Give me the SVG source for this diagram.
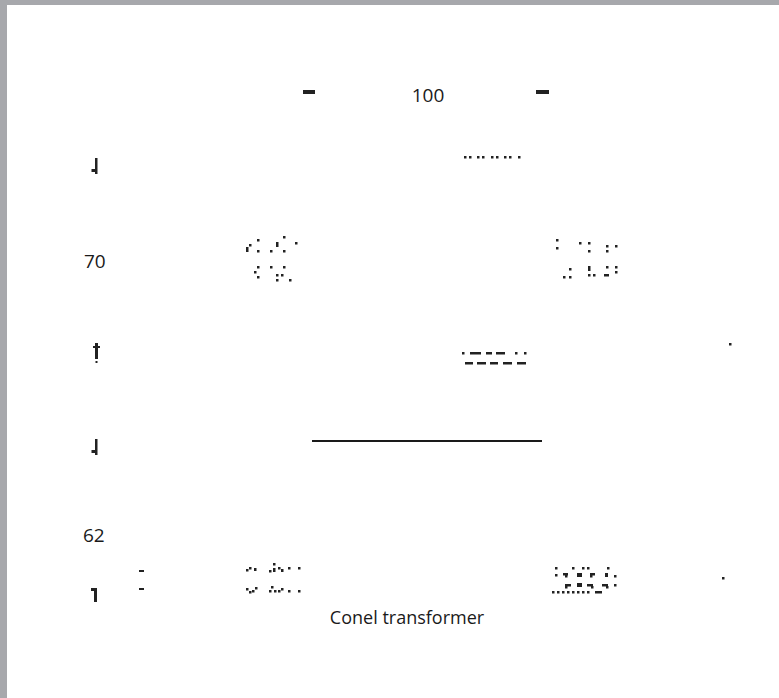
<svg xmlns="http://www.w3.org/2000/svg" width="779" height="698" viewBox="0 0 779 698">
<style>
.t{font-family:"Open Sans","Noto Sans","Liberation Sans",sans-serif;fill:#1a1a1a}
.d{fill:#222}
</style>
<rect x="0" y="0" width="779" height="698" fill="#ffffff"/>
<rect x="0" y="0" width="779" height="5" fill="#a7a8ac"/>
<rect x="0" y="0" width="7" height="698" fill="#a7a8ac"/>

<g id="top-scale">
<rect class="d" x="303" y="90" width="12" height="4"/>
<rect class="d" x="536" y="90" width="13" height="4"/>
<text class="t" x="428" y="102" font-size="19" text-anchor="middle">100</text>
</g>

<g id="left-marks">
<rect class="d" x="95" y="158" width="2.5" height="16"/>
<rect class="d" x="91.5" y="169" width="4" height="3"/>
<text class="t" x="84" y="268" font-size="19">70</text>
<rect class="d" x="95" y="343" width="3" height="16"/>
<rect class="d" x="93" y="346" width="7" height="2"/>
<rect class="d" x="95.5" y="361" width="2" height="2"/>
<rect class="d" x="95" y="439" width="2.5" height="16"/>
<rect class="d" x="91.5" y="450" width="4" height="3"/>
<text class="t" x="83" y="542" font-size="19">62</text>
<rect class="d" x="94" y="588" width="3" height="14"/>
<rect class="d" x="91" y="588" width="3" height="3"/>
<rect class="d" x="139" y="570" width="5" height="2"/>
<rect class="d" x="139" y="588" width="5" height="2"/>
</g>

<g id="dots-top">
<rect class="d" x="464" y="156" width="2.5" height="2.5"/>
<rect class="d" x="469" y="156" width="2.5" height="2.5"/>
<rect class="d" x="477" y="156" width="2.5" height="2.5"/>
<rect class="d" x="482" y="156" width="2.5" height="2.5"/>
<rect class="d" x="491" y="156" width="2.5" height="2.5"/>
<rect class="d" x="496" y="156" width="2.5" height="2.5"/>
<rect class="d" x="504" y="156" width="2.5" height="2.5"/>
<rect class="d" x="509" y="156" width="2.5" height="2.5"/>
<rect class="d" x="518" y="156" width="2.5" height="2.5"/>
</g>

<g id="cluster-left-70">
<rect class="d" x="257" y="239" width="2.5" height="2.5"/>
<rect class="d" x="249" y="244" width="2.5" height="2.5"/>
<rect class="d" x="246" y="247" width="2.5" height="5"/>
<rect class="d" x="257" y="250" width="2.5" height="2.5"/>
<rect class="d" x="276" y="242" width="2.5" height="5"/>
<rect class="d" x="283" y="236" width="2.5" height="2.5"/>
<rect class="d" x="295" y="242" width="2.5" height="2.5"/>
<rect class="d" x="270" y="250" width="2.5" height="2.5"/>
<rect class="d" x="283" y="250" width="2.5" height="2.5"/>
<rect class="d" x="257" y="266" width="2.5" height="2.5"/>
<rect class="d" x="254" y="271" width="2.5" height="2.5"/>
<rect class="d" x="257" y="276" width="2.5" height="2.5"/>
<rect class="d" x="270" y="266" width="2.5" height="2.5"/>
<rect class="d" x="283" y="266" width="2.5" height="2.5"/>
<rect class="d" x="276" y="274" width="2.5" height="2.5"/>
<rect class="d" x="281" y="274" width="2.5" height="2.5"/>
<rect class="d" x="276" y="279" width="2.5" height="2.5"/>
<rect class="d" x="289" y="279" width="2.5" height="2.5"/>
</g>

<g id="cluster-right-70">
<rect class="d" x="556" y="239" width="2.5" height="2.5"/>
<rect class="d" x="556" y="247" width="2.5" height="2.5"/>
<rect class="d" x="579" y="242" width="2.5" height="2.5"/>
<rect class="d" x="588" y="242" width="2.5" height="2.5"/>
<rect class="d" x="588" y="250" width="2.5" height="2.5"/>
<rect class="d" x="606" y="245" width="2.5" height="2.5"/>
<rect class="d" x="615" y="245" width="2.5" height="2.5"/>
<rect class="d" x="606" y="250" width="2.5" height="2.5"/>
<rect class="d" x="569" y="268" width="2.5" height="2.5"/>
<rect class="d" x="563" y="276" width="2.5" height="2.5"/>
<rect class="d" x="569" y="276" width="2.5" height="2.5"/>
<rect class="d" x="588" y="266" width="2.5" height="5"/>
<rect class="d" x="588" y="274" width="2.5" height="2.5"/>
<rect class="d" x="593" y="274" width="2.5" height="2.5"/>
<rect class="d" x="604" y="274" width="5" height="2.5"/>
<rect class="d" x="606" y="266" width="2.5" height="2.5"/>
<rect class="d" x="615" y="266" width="2.5" height="2.5"/>
<rect class="d" x="615" y="271" width="2.5" height="2.5"/>
</g>

<g id="dashes-mid">
<rect class="d" x="462" y="352" width="2.5" height="2.5"/>
<rect class="d" x="470" y="352" width="11" height="2.5"/>
<rect class="d" x="486" y="352" width="6" height="2.5"/>
<rect class="d" x="496" y="352" width="9" height="2.5"/>
<rect class="d" x="515" y="352" width="2.5" height="2.5"/>
<rect class="d" x="524" y="352" width="2.5" height="2.5"/>
<rect class="d" x="465" y="362" width="8" height="2.5"/>
<rect class="d" x="477" y="362" width="9" height="2.5"/>
<rect class="d" x="490" y="362" width="8" height="2.5"/>
<rect class="d" x="503" y="362" width="9" height="2.5"/>
<rect class="d" x="517" y="362" width="9" height="2.5"/>
<rect class="d" x="729" y="343" width="2.5" height="2.5"/>
</g>

<g id="connectors">
<line x1="312" y1="441" x2="542" y2="441" stroke="#1a1a1a" stroke-width="2"/>
</g>

<g id="cluster-left-bottom">
<rect class="d" x="246" y="569" width="2.5" height="2.5"/>
<rect class="d" x="249" y="567" width="2.5" height="2.5"/>
<rect class="d" x="254" y="568" width="2.5" height="3"/>
<rect class="d" x="269" y="570" width="2.5" height="2.5"/>
<rect class="d" x="273" y="563" width="2.5" height="2.5"/>
<rect class="d" x="273" y="568" width="2.5" height="4"/>
<rect class="d" x="278" y="567" width="2.5" height="2.5"/>
<rect class="d" x="281" y="569" width="2.5" height="3"/>
<rect class="d" x="288" y="567" width="2.5" height="2.5"/>
<rect class="d" x="298" y="567" width="2.5" height="2.5"/>
<rect class="d" x="246" y="588" width="2.5" height="2.5"/>
<rect class="d" x="249" y="591" width="2.5" height="2.5"/>
<rect class="d" x="252" y="590" width="2.5" height="2.5"/>
<rect class="d" x="255" y="587" width="2.5" height="2.5"/>
<rect class="d" x="269" y="590" width="2.5" height="2.5"/>
<rect class="d" x="271" y="586" width="2.5" height="2.5"/>
<rect class="d" x="274" y="590" width="2.5" height="2.5"/>
<rect class="d" x="278" y="590" width="2.5" height="2.5"/>
<rect class="d" x="281" y="588" width="2.5" height="2.5"/>
<rect class="d" x="288" y="590" width="2.5" height="2.5"/>
<rect class="d" x="298" y="590" width="2.5" height="2.5"/>
</g>

<g id="cluster-right-bottom">
<rect class="d" x="555" y="567" width="2.5" height="2.5"/>
<rect class="d" x="572" y="567" width="2.5" height="2.5"/>
<rect class="d" x="582" y="567" width="2.5" height="2.5"/>
<rect class="d" x="587" y="567" width="2.5" height="2.5"/>
<rect class="d" x="607" y="567" width="2.5" height="2.5"/>
<rect class="d" x="555" y="574" width="2.5" height="2.5"/>
<rect class="d" x="563" y="573" width="5" height="2.5"/>
<rect class="d" x="565" y="575" width="2.5" height="2.5"/>
<rect class="d" x="577" y="573" width="5" height="4"/>
<rect class="d" x="590" y="573" width="5" height="2.5"/>
<rect class="d" x="590" y="575" width="2.5" height="2.5"/>
<rect class="d" x="605" y="573" width="3" height="4"/>
<rect class="d" x="614" y="575" width="2.5" height="2.5"/>
<rect class="d" x="565" y="584" width="6" height="2.5"/>
<rect class="d" x="565" y="586" width="2.5" height="2.5"/>
<rect class="d" x="577" y="583" width="5" height="4"/>
<rect class="d" x="587" y="584" width="6" height="2.5"/>
<rect class="d" x="591" y="586" width="2.5" height="2.5"/>
<rect class="d" x="602" y="584" width="6" height="2.5"/>
<rect class="d" x="606" y="586" width="2.5" height="2.5"/>
<rect class="d" x="614" y="584" width="2.5" height="2.5"/>
<rect class="d" x="552" y="591" width="2.5" height="2.5"/>
<rect class="d" x="557" y="591" width="2.5" height="2.5"/>
<rect class="d" x="562" y="591" width="2.5" height="2.5"/>
<rect class="d" x="567" y="591" width="2.5" height="2.5"/>
<rect class="d" x="572" y="591" width="2.5" height="2.5"/>
<rect class="d" x="577" y="591" width="2.5" height="2.5"/>
<rect class="d" x="582" y="591" width="2.5" height="2.5"/>
<rect class="d" x="587" y="591" width="2.5" height="2.5"/>
<rect class="d" x="595" y="591" width="7" height="2.5"/>
<rect class="d" x="722" y="577" width="2.5" height="2.5"/>
</g>

<g id="caption">
<text class="t" x="407" y="624" font-size="18" text-anchor="middle">Conel transformer</text>
</g>
</svg>
